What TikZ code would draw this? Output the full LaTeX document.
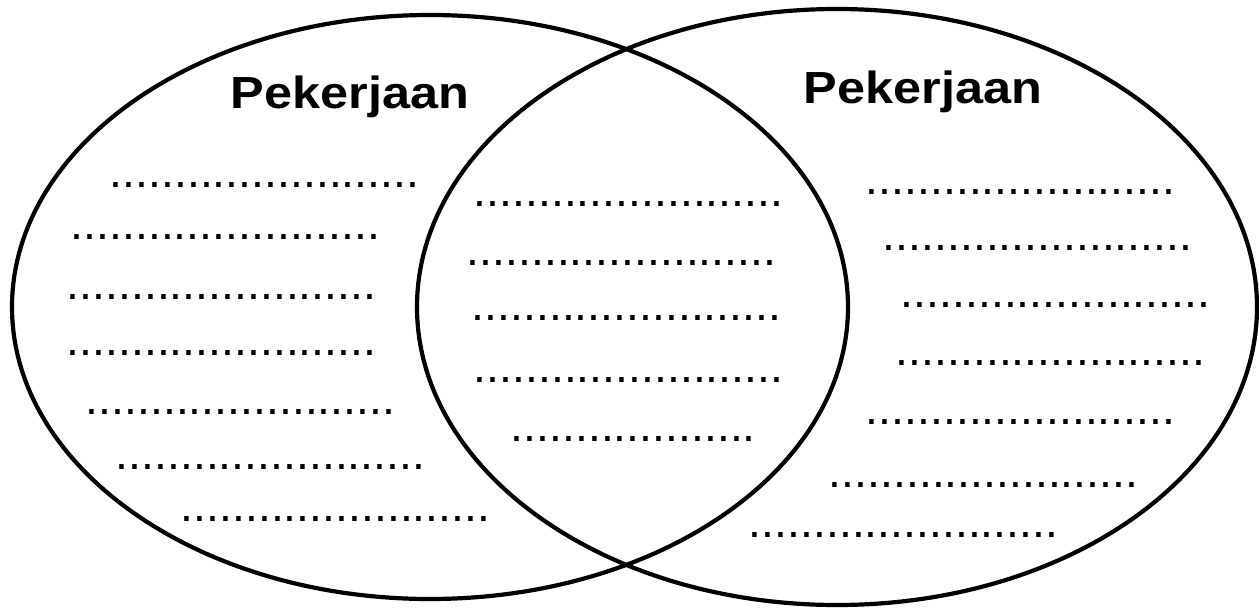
\documentclass[tikz,border=0pt]{standalone}
\usepackage{fontspec}
\setmainfont{Liberation Sans}
\usetikzlibrary{shapes.geometric}

\newcommand{\blankrow}[1]{\foreach \dotidx in {1,...,#1}{.}}

\begin{document}
\begin{tikzpicture}[
x=1pt, y=-1pt,
set/.style={
draw,
ellipse,
line width=4.2pt,
inner sep=0pt
},
title/.style={font=\fontsize{45}{50}\selectfont\bfseries, inner sep=0pt, anchor=base, xscale=1.12},
blank/.style={font=\fontsize{46.4}{50}\selectfont, inner sep=0pt, anchor=base west, xshift=-6.4pt, yshift=-2.2pt}
]
\useasboundingbox (0,0) rectangle (1259,613);

\node[set, minimum width=836pt, minimum height=584pt] (leftSet) at (430,307) {};
\node[set, minimum width=840pt, minimum height=596pt] (rightSet) at (837,307) {};

\node[title] (leftTitle) at (350,108) {Pekerjaan};
\node[title] (rightTitle) at (923,103) {Pekerjaan};


\node[blank] (l1) at (116,185) {\blankrow{24}};
\node[blank] (l2) at (77,237) {\blankrow{24}};
\node[blank] (l3) at (73,297) {\blankrow{24}};
\node[blank] (l4) at (73,353) {\blankrow{24}};
\node[blank] (l5) at (92,412) {\blankrow{24}};
\node[blank] (l6) at (122,467) {\blankrow{24}};
\node[blank] (l7) at (187,519) {\blankrow{24}};

\node[blank] (m1) at (480,204) {\blankrow{24}};
\node[blank] (m2) at (473,263) {\blankrow{24}};
\node[blank] (m3) at (478,318) {\blankrow{24}};
\node[blank] (m4) at (480,380) {\blankrow{24}};
\node[blank] (m5) at (517,439) {\blankrow{19}};

\node[blank] (r1) at (872,192) {\blankrow{24}};
\node[blank] (r2) at (889,248) {\blankrow{24}};
\node[blank] (r3) at (907,305) {\blankrow{24}};
\node[blank] (r4) at (902,363) {\blankrow{24}};
\node[blank] (r5) at (872,422) {\blankrow{24}};
\node[blank] (r6) at (835,485) {\blankrow{24}};
\node[blank] (r7) at (755,535) {\blankrow{24}};

\end{tikzpicture}
\end{document}
